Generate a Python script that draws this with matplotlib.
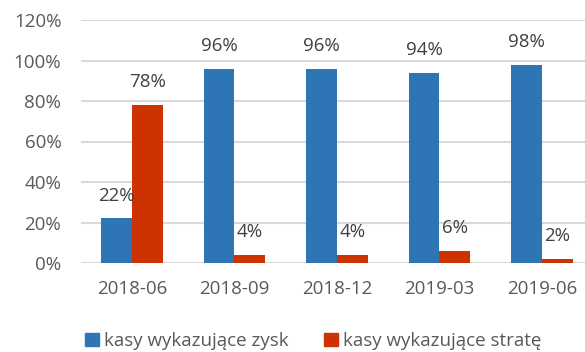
import matplotlib
matplotlib.use("Agg")
import matplotlib.pyplot as plt
import numpy as np
from matplotlib.patches import Patch

# Data
categories = ["2018-06", "2018-09", "2018-12", "2019-03", "2019-06"]
profit = [22, 96, 96, 94, 98]      # kasy wykazujące zysk (%)
loss = [78, 4, 4, 6, 2]            # kasy wykazujące stratę (%)
ytick_values = [0, 20, 40, 60, 80, 100, 120]
series_names = ["kasy wykazujące zysk", "kasy wykazujące stratę"]

BLUE = "#2E75B6"
RED = "#CC3300"
GRID = "#D9D9D9"
TICK = "#595959"
LABEL = "#404040"

plt.rcParams["font.family"] = ["Open Sans", "DejaVu Sans"]

W, H = 585, 352
fig = plt.figure(figsize=(W / 100, H / 100), dpi=100)
ax = fig.add_axes([80.75 / W, (H - 263) / H, (593 - 80.75) / W, (263 - 20) / H])

x = np.arange(len(categories))
bw = 0.30
b1 = ax.bar(x - bw / 2, profit, bw, color=BLUE, zorder=3)
b2 = ax.bar(x + bw / 2, loss, bw, color=RED, zorder=3)

for bars, vals in ((b1, profit), (b2, loss)):
    for rect, v in zip(bars, vals):
        ax.annotate(f"{v}%", (rect.get_x() + rect.get_width() / 2, v),
                    xytext=(0, 16.5), textcoords="offset points",
                    ha="center", va="center", fontsize=13.5, color=LABEL)

ax.set_xlim(-0.5, len(categories) - 0.5)
ax.set_ylim(0, 120)
ax.set_yticks(ytick_values)
ax.set_yticklabels([f"{v}%" for v in ytick_values])
ax.set_xticks(x)
ax.set_xticklabels(categories)
ax.tick_params(axis="both", length=0, labelsize=13.5, labelcolor=TICK)
ax.tick_params(axis="y", pad=14)
ax.tick_params(axis="x", pad=12)
ax.yaxis.grid(True, color=GRID, linewidth=1.5, zorder=0)
ax.set_axisbelow(True)
for s in ax.spines.values():
    s.set_visible(False)
ax.axhline(0, color=GRID, linewidth=1.5, zorder=1)

handles = [Patch(color=BLUE), Patch(color=RED)]
fig.legend(handles, series_names, loc="center", bbox_to_anchor=(0.536, 0.030),
           ncol=2, frameon=False, fontsize=13.5, labelcolor=TICK,
           handlelength=0.7, handleheight=0.7, handletextpad=0.3,
           columnspacing=1.9)

fig.savefig("out.png", dpi=100)
